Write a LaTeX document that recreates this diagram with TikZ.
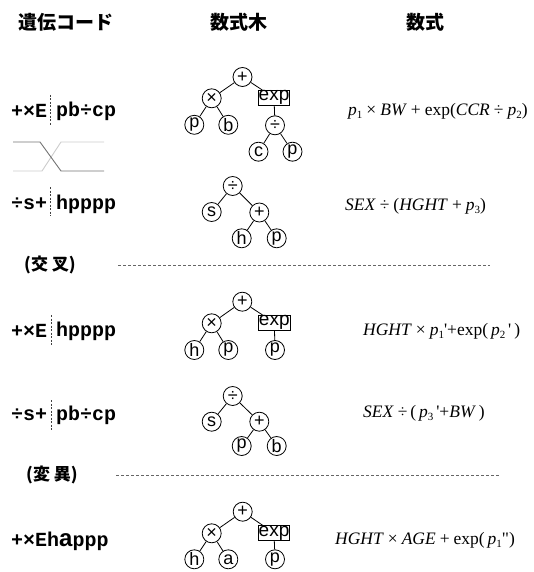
\documentclass[tikz,border=0pt]{standalone}
\usepackage{fontspec}
\setmainfont{Liberation Serif}
\newfontfamily\cjkf{Noto Sans CJK JP}
\newfontfamily\monof{Liberation Mono}
\newfontfamily\sansf{Liberation Sans}
\newcommand\vi[1]{\textit{#1}}
\newcommand\sbs[1]{\raisebox{-0.4ex}{\fontsize{11}{11}\selectfont #1}}
\newcommand\gsp{\hspace{4pt}}
\begin{document}
\begin{tikzpicture}[x=1pt,y=-1pt,
  hdr/.style={font=\cjkf\bfseries\fontsize{19}{19}\selectfont, inner sep=0pt},
  lbl/.style={font=\cjkf\bfseries\fontsize{17}{17}\selectfont, inner sep=0pt, anchor=west},
  code/.style={font=\monof\bfseries\fontsize{20}{20}\selectfont, anchor=west, inner sep=0pt},
  tn/.style={circle, draw, line width=0.8pt, minimum size=19pt, inner sep=0pt, font=\sansf\fontsize{18}{18}\selectfont},
  ebox/.style={draw, line width=0.8pt, inner xsep=0.5pt, inner ysep=0.3pt, text height=10pt, text depth=4pt, font=\sansf\fontsize{19}{19}\selectfont},
  edge/.style={line width=0.8pt},
  form/.style={anchor=west, inner sep=0pt, font=\fontsize{17.5}{18}\selectfont},
  vsep/.style={dash pattern=on 2pt off 1.5pt, line width=0.7pt, black!75},
  hsep/.style={dash pattern=on 3pt off 2pt, line width=0.6pt, black!60},
  darkl/.style={line width=0.9pt, black!55},
  lightl/.style={line width=0.9pt, black!20}]
\useasboundingbox (0,0) rectangle (533,572);

% headers
\node[hdr] (h1) at (65.5,22) {遺伝コード};
\node[hdr] (h2) at (239,22) {数式木};
\node[hdr] (h3) at (425,22) {数式};

% codes
\node[code] (c1a) at (11,111) {+×E};
\node[code] (c1b) at (56,111) {pb÷cp};
\draw[vsep] (50,95) -- (50,125);
\node[code] (c2a) at (11,204) {÷s+};
\node[code] (c2b) at (56,204) {hpppp};
\draw[vsep] (50,187) -- (50,216);
\node[code] (c3a) at (11,331) {+×E};
\node[code] (c3b) at (56,331) {hpppp};
\draw[vsep] (51,315) -- (51,345);
\node[code] (c4a) at (11,415) {÷s+};
\node[code] (c4b) at (56,415) {pb÷cp};
\draw[vsep] (51,400) -- (51,430);
\node[code] (c5) at (11,541) {+×Eh{\sansf\bfseries\fontsize{24}{24}\selectfont a}ppp};

% crossover lines
\coordinate (xa1) at (13,142); \coordinate (xa2) at (40,142);
\coordinate (xa3) at (61,171); \coordinate (xa4) at (104,171);
\coordinate (xb1) at (13,171); \coordinate (xb2) at (42,171);
\coordinate (xb3) at (61,142); \coordinate (xb4) at (104,142);
\draw[lightl] (xb1) -- (xb2) -- (xb3) -- (xb4);
\draw[darkl] (xa1) -- (xa2) -- (xa3) -- (xa4);

% section labels
\node[lbl] (cr) at (24,265) {(交 叉)};
\coordinate (cr1) at (118,265); \coordinate (cr2) at (490,265);
\draw[hsep] (cr1) -- (cr2);
\node[lbl] (mu) at (26,475) {(変 異)};
\coordinate (mu1) at (116,475); \coordinate (mu2) at (500,475);
\draw[hsep] (mu1) -- (mu2);

% tree 1
\node[tn] (a0) at (242.5,77) {+};
\node[tn] (a1) at (211.7,98.3) {×};
\node[ebox] (a2) at (274,97.7) {exp};
\node[tn] (a3) at (194.3,124.8) {p};
\node[tn] (a4) at (228.3,124.8) {b};
\node[tn] (a5) at (275,125.3) {÷};
\node[tn] (a6) at (258.5,151.7) {c};
\node[tn] (a7) at (292.5,151.7) {p};
\draw[edge] (a0) -- (a1) (a0) -- (a2) (a1) -- (a3) (a1) -- (a4)
  (a2) -- (a5) (a5) -- (a6) (a5) -- (a7);

% tree 2
\node[tn] (b0) at (232.7,186) {÷};
\node[tn] (b1) at (211.7,212) {s};
\node[tn] (b2) at (259.3,212.5) {+};
\node[tn] (b3) at (241.7,238.3) {h};
\node[tn] (b4) at (276.7,238.3) {p};
\draw[edge] (b0) -- (b1) (b0) -- (b2) (b2) -- (b3) (b2) -- (b4);

% tree 3
\node[tn] (d0) at (242.3,301.7) {+};
\node[tn] (d1) at (211.7,323.3) {×};
\node[ebox] (d2) at (274.3,322.7) {exp};
\node[tn] (d3) at (194.3,350) {h};
\node[tn] (d4) at (228.3,350) {p};
\node[tn] (d5) at (275,350) {p};
\draw[edge] (d0) -- (d1) (d0) -- (d2) (d1) -- (d3) (d1) -- (d4) (d2) -- (d5);

% tree 4
\node[tn] (e0) at (232.7,396) {÷};
\node[tn] (e1) at (211.7,421.7) {s};
\node[tn] (e2) at (259.3,421.7) {+};
\node[tn] (e3) at (241.7,446) {p};
\node[tn] (e4) at (276.7,446) {b};
\draw[edge] (e0) -- (e1) (e0) -- (e2) (e2) -- (e3) (e2) -- (e4);

% tree 5
\node[tn] (f0) at (242.7,511.7) {+};
\node[tn] (f1) at (211.7,533.3) {×};
\node[ebox] (f2) at (274,533) {exp};
\node[tn] (f3) at (194.3,559.3) {h};
\node[tn] (f4) at (228.3,559.3) {a};
\node[tn] (f5) at (275,559.3) {p};
\draw[edge] (f0) -- (f1) (f0) -- (f2) (f1) -- (f3) (f1) -- (f4) (f2) -- (f5);

% formulas
\node[form] (g1) at (348,111) {\vi{p}\sbs{1}\gsp×\gsp\vi{BW}\gsp+\gsp exp(\vi{CCR}\gsp÷\gsp\vi{p}\sbs{2})};
\node[form] (g2) at (345,206) {\vi{SEX}\gsp÷\gsp(\vi{HGHT}\gsp+\gsp\vi{p}\sbs{3})};
\node[form] (g3) at (363,331) {\vi{HGHT}\gsp×\gsp\vi{p}\sbs{1}\textquotesingle+exp(\,\vi{p}\sbs{2}\,\textquotesingle\,)};
\node[form] (g4) at (363,413) {\vi{SEX}\gsp÷\,(\,\vi{p}\sbs{3}\,\textquotesingle+\vi{BW}\,)};
\node[form] (g5) at (335,540) {\vi{HGHT}\gsp×\gsp\vi{AGE}\gsp+\gsp exp(\,\vi{p}\sbs{1}\textquotedbl)};
\end{tikzpicture}
\end{document}
